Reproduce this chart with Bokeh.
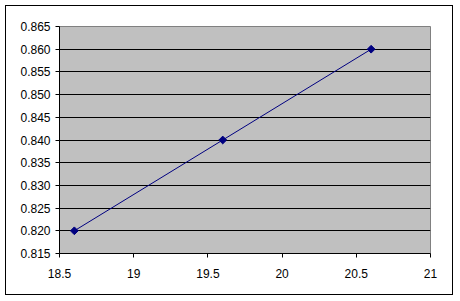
import math
from bokeh.plotting import figure
from bokeh.models import Range1d, FixedTicker
from bokeh.embed import file_html
from bokeh.resources import INLINE

x_vals = [18.6, 19.6, 20.6]
y_vals = [0.820, 0.840, 0.860]
x_ticks = [18.5, 19, 19.5, 20, 20.5, 21]
y_ticks = [0.815, 0.820, 0.825, 0.830, 0.835, 0.840, 0.845, 0.850, 0.855, 0.860, 0.865]

p = figure(width=460, height=301, output_backend="svg", toolbar_location=None,
           x_range=Range1d(18.5, 21), y_range=Range1d(0.815, 0.865),
           min_border_left=59, min_border_right=30, min_border_top=26, min_border_bottom=48)

p.background_fill_color = "#C0C0C0"
p.border_fill_color = None
p.outline_line_color = "#808080"
p.outline_line_width = 1

p.xgrid.visible = False
p.ygrid.ticker = FixedTicker(ticks=y_ticks)
p.ygrid.grid_line_color = "black"
p.ygrid.grid_line_width = 1
p.ygrid.grid_line_alpha = 1

p.xaxis.ticker = FixedTicker(ticks=x_ticks)
p.yaxis.ticker = FixedTicker(ticks=y_ticks)
p.xaxis.major_label_overrides = {18.5: "18.5", 19: "19", 19.5: "19.5", 20: "20", 20.5: "20.5", 21: "21"}
p.yaxis.major_label_overrides = {t: f"{t:.3f}" for t in y_ticks}

for ax in (p.xaxis[0], p.yaxis[0]):
    ax.axis_line_color = "black"
    ax.major_tick_line_color = "black"
    ax.major_tick_out = 4
    ax.major_tick_in = 0
    ax.minor_tick_line_color = None
    ax.major_label_text_font = "Liberation Sans"
    ax.major_label_text_font_size = "12px"
    ax.major_label_text_color = "black"
p.xaxis.major_label_standoff = 11
p.yaxis.major_label_standoff = 5

p.line(x_vals, y_vals, line_color="#000080", line_width=1)
p.scatter(x_vals, y_vals, marker="square", angle=math.pi / 4, size=5.5,
          fill_color="#000080", line_color="#000080")

p.styles = {
    "background-color": "white",
    "background-image": "linear-gradient(black, black), linear-gradient(black, black), linear-gradient(black, black), linear-gradient(black, black)",
    "background-size": "448px 1px, 448px 1px, 1px 290px, 1px 290px",
    "background-position": "5px 5px, 5px 294px, 5px 5px, 452px 5px",
    "background-repeat": "no-repeat",
}

open("out.html", "w").write(file_html(p, INLINE))
